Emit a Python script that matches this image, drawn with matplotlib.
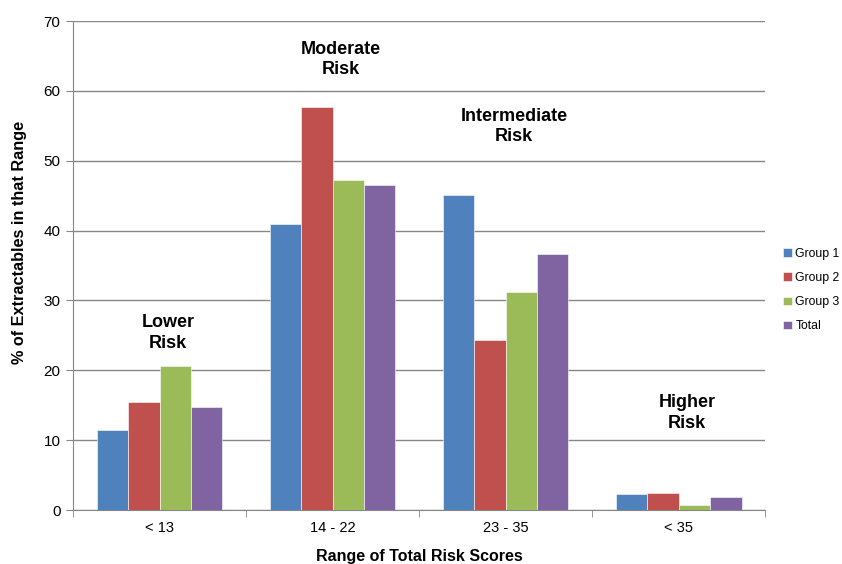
import matplotlib.pyplot as plt
import numpy as np

plt.rcParams["font.family"] = ["Liberation Sans", "DejaVu Sans"]

categories = ["< 13", "14 - 22", "23 - 35", "< 35"]
group1 = [11.5, 40.9, 45.1, 2.3]
group2 = [15.4, 57.7, 24.4, 2.4]
group3 = [20.6, 47.3, 31.2, 0.7]
total = [14.8, 46.5, 36.6, 1.9]
series_names = ["Group 1", "Group 2", "Group 3", "Total"]
colors = ["#4F81BD", "#C0504D", "#9BBB59", "#8064A2"]
risk_labels = ["Lower\nRisk", "Moderate\nRisk", "Intermediate\nRisk", "Higher\nRisk"]
risk_label_y = [25.4, 64.5, 54.9, 13.9]

fig = plt.figure(figsize=(8.42, 5.64), dpi=100)
ax = fig.add_axes([0.0867, 0.0957, 0.822, 0.867])

x = np.arange(len(categories))
width = 1 / 5.5
for i, (vals, name, c) in enumerate(zip([group1, group2, group3, total], series_names, colors)):
    ax.bar(x + (i - 1.5) * width, vals, width, color=c, label=name,
           edgecolor="white", linewidth=0.4, zorder=3)

# risk labels sit a little right of the category centre in the original
for xi, lab, yy in zip(x, risk_labels, risk_label_y):
    ax.text(xi + 0.05, yy, lab, ha="center", va="center", fontsize=13,
            fontweight="bold", linespacing=1.3)

ax.set_xlim(-0.5, len(categories) - 0.5)
ax.set_ylim(0, 70)
ax.set_yticks(range(0, 71, 10))
ax.yaxis.grid(True, color="#868686", linewidth=1.0, zorder=0)
ax.set_xticks(x)
ax.set_xticklabels(categories, fontsize=10.5)
ax.set_xticks(np.arange(-0.5, len(categories), 1), minor=True)
ax.tick_params(axis="x", which="major", length=0, pad=8)
ax.tick_params(axis="x", which="minor", length=5, color="#868686")
ax.tick_params(axis="y", labelsize=11, length=5, color="#868686", pad=4)
for s in ["top", "right"]:
    ax.spines[s].set_visible(False)
for s in ["left", "bottom"]:
    ax.spines[s].set_color("#868686")

ax.set_ylabel("% of Extractables in that Range", fontsize=11.7, fontweight="bold")
ax.yaxis.set_label_coords(-0.066, 0.548)
ax.set_xlabel("Range of Total Risk Scores", fontsize=11.5, fontweight="bold", labelpad=10)

ax.legend(loc="center left", bbox_to_anchor=(1.01, 0.45), frameon=False, fontsize=8.8,
          handlelength=0.7, handleheight=0.7, handletextpad=0.3, labelspacing=1.0)

fig.savefig("out.png", dpi=100)
